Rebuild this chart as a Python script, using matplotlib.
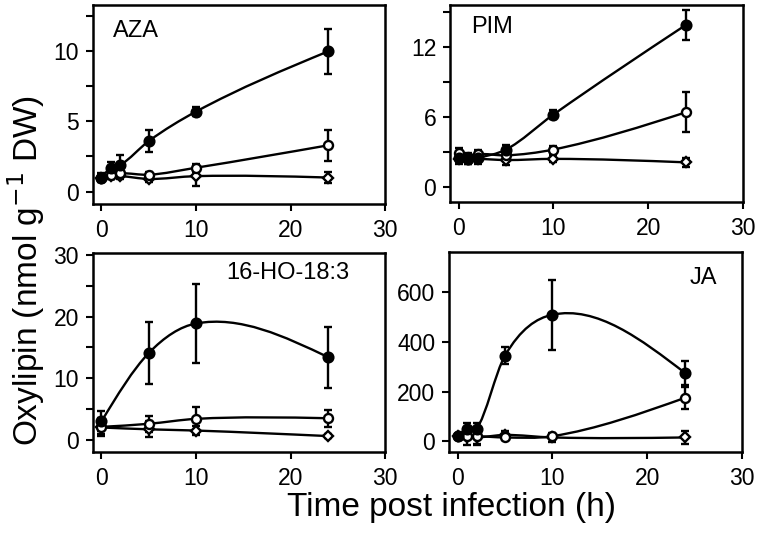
import numpy as np
import matplotlib
matplotlib.use("Agg")
import matplotlib.pyplot as plt
from matplotlib.path import Path
from matplotlib.patches import PathPatch

plt.rcParams['font.family'] = ['Liberation Sans', 'DejaVu Sans']

# ---- data ----
t_aza = [0, 1, 2, 5, 10, 24]
aza_inf = [1.0, 1.7, 1.9, 3.6, 5.7, 10.0]
aza_inf_err = [0.3, 0.4, 0.7, 0.8, 0.3, 1.6]
aza_open = [1.0, 1.2, 1.3, 1.2, 1.7, 3.3]
aza_open_err = [0.2, 0.3, 0.3, 0.2, 0.3, 1.1]
aza_dia = [1.0, 1.1, 1.1, 0.9, 1.1, 1.0]
aza_dia_err = [0.2, 0.2, 0.2, 0.2, 0.7, 0.4]

t_pim = [0, 1, 2, 5, 10, 24]
pim_inf = [2.5, 2.4, 2.5, 3.2, 6.2, 13.9]
pim_inf_err = [0.4, 0.4, 0.4, 0.4, 0.4, 1.3]
pim_open = [2.9, 2.6, 2.8, 2.7, 3.2, 6.4]
pim_open_err = [0.4, 0.3, 0.4, 0.3, 0.3, 1.7]
pim_dia = [2.4, 2.4, 2.4, 2.3, 2.4, 2.1]
pim_dia_err = [0.4, 0.4, 0.4, 0.4, 0.3, 0.4]

t_ho = [0, 5, 10, 24]
ho_inf = [3.0, 14.1, 18.9, 13.4]
ho_inf_err = [1.6, 5.1, 6.4, 5.0]
ho_open = [2.1, 2.6, 3.4, 3.5]
ho_open_err = [1.5, 1.3, 2.0, 1.4]
ho_dia = [2.0, 1.7, 1.5, 0.6]
ho_dia_err = [1.0, 1.3, 0.8, 0.3]

t_ja = [0, 1, 2, 5, 10, 24]
ja_inf = [20, 50, 50, 345, 510, 275]
ja_inf_err = [10, 25, 25, 33, 141, 47]
ja_open = [20, 20, 20, 15, 20, 175]
ja_open_err = [10, 10, 30, 10, 10, 45]
ja_dia = [20, 15, 15, 25, 15, 15]
ja_dia_err = [10, 30, 30, 15, 20, 25]


def smooth_path(x, y):
    # cubic Hermite through the points, drawn as Bezier segments
    x = np.asarray(x, float)
    y = np.asarray(y, float)
    h = np.diff(x)
    d = np.diff(y) / h
    s = np.zeros_like(y)
    for i in range(1, len(x) - 1):
        w = (d[i] * h[i - 1] + d[i - 1] * h[i]) / (h[i - 1] + h[i])
        cr = (y[i + 1] - y[i - 1]) / (x[i + 1] - x[i - 1])
        s[i] = 0.5 * (w + cr)
    s[0] = (3 * d[0] - s[1]) / 2
    s[-1] = (3 * d[-1] - s[-2]) / 2
    verts = [(x[0], y[0])]
    codes = [Path.MOVETO]
    for i in range(len(x) - 1):
        verts += [(x[i] + h[i] / 3, y[i] + s[i] * h[i] / 3),
                  (x[i + 1] - h[i] / 3, y[i + 1] - s[i + 1] * h[i] / 3),
                  (x[i + 1], y[i + 1])]
        codes += [Path.CURVE4] * 3
    return Path(verts, codes)


def draw_series(ax, x, y, err, marker, face, ms):
    ax.add_patch(PathPatch(smooth_path(x, y), fill=False, lw=1.7, ec='black', zorder=2))
    ax.errorbar(x, y, yerr=err, fmt='none', ecolor='black', elinewidth=1.7,
                capsize=3, capthick=1.7, zorder=3)
    ax.plot(x, y, linestyle='none', marker=marker, ms=ms, mfc=face, mec='black',
            mew=1.7, zorder=4)


def style_axes(ax, ylim, yticks, minor):
    ax.set_xlim(-0.9, 30)
    ax.set_ylim(*ylim)
    ax.set_xticks([0, 10, 20, 30])
    ax.set_yticks(yticks)
    if minor:
        ax.set_yticks(minor, minor=True)
    ax.tick_params(axis='both', which='both', direction='out', width=1.5,
                   labelsize=16.5, top=False, right=False, length=5)
    ax.tick_params(axis='y', pad=5)
    ax.tick_params(axis='x', pad=6)
    for sp in ax.spines.values():
        sp.set_linewidth(1.8)


fig = plt.figure(figsize=(7.59, 5.46), dpi=100)
ax1 = fig.add_axes([0.1225, 0.626, 0.385, 0.365])
ax2 = fig.add_axes([0.593, 0.630, 0.386, 0.361])
ax3 = fig.add_axes([0.1225, 0.172, 0.385, 0.364])
ax4 = fig.add_axes([0.5916, 0.172, 0.386, 0.366])

panels = [
    (ax1, t_aza, aza_inf, aza_inf_err, aza_open, aza_open_err, aza_dia, aza_dia_err),
    (ax2, t_pim, pim_inf, pim_inf_err, pim_open, pim_open_err, pim_dia, pim_dia_err),
    (ax3, t_ho, ho_inf, ho_inf_err, ho_open, ho_open_err, ho_dia, ho_dia_err),
    (ax4, t_ja, ja_inf, ja_inf_err, ja_open, ja_open_err, ja_dia, ja_dia_err),
]
for ax, t, a, ae, b, be, c, ce in panels:
    draw_series(ax, t, c, ce, 'D', 'white', 5.5)
    draw_series(ax, t, b, be, 'o', 'white', 6.5)
    draw_series(ax, t, a, ae, 'o', 'black', 7)

style_axes(ax1, (-0.9, 13.3), [0, 5, 10], [2.5, 7.5, 12.5])
style_axes(ax2, (-1.3, 15.6), [0, 6, 12], [3, 9, 15])
style_axes(ax3, (-2.0, 30.3), [0, 10, 20, 30], [5, 15, 25])
style_axes(ax4, (-44, 762), [0, 200, 400, 600], None)

ax1.text(0.147, 0.87, 'AZA', transform=ax1.transAxes, fontsize=17, va='center', ha='center')
ax2.text(0.142, 0.89, 'PIM', transform=ax2.transAxes, fontsize=17, va='center', ha='center')
ax3.text(0.666, 0.90, '16-HO-18:3', transform=ax3.transAxes, fontsize=17, va='center', ha='center')
ax4.text(0.867, 0.87, 'JA', transform=ax4.transAxes, fontsize=17, va='center', ha='center')

fig.text(0.035, 0.505, 'Oxylipin (nmol g$^{-1}$ DW)', rotation=90, fontsize=24,
         va='center', ha='center')
fig.text(0.595, 0.055, 'Time post infection (h)', fontsize=24, va='baseline', ha='center')

fig.savefig('out.png', dpi=100)
